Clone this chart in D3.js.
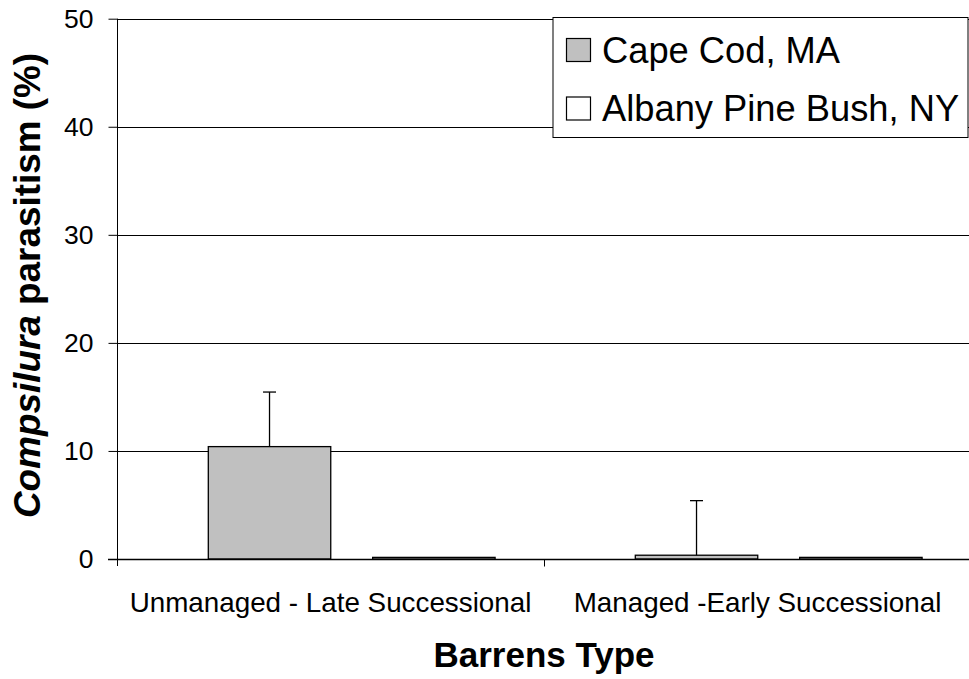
<!DOCTYPE html>
<html>
<head>
<meta charset="utf-8">
<script src="https://cdn.jsdelivr.net/npm/d3@7"></script>
<style>
  html, body { margin: 0; padding: 0; background: #fff; }
  svg { display: block; }
  text { font-family: "Liberation Sans", Arial, sans-serif; fill: #000; }
</style>
</head>
<body>
<svg id="chart" width="969" height="679"></svg>
<script>
// Parasitism by barrens type and site
const categories = ["Unmanaged - Late Successional", "Managed -Early Successional"];
const seriesNames = ["Cape Cod, MA", "Albany Pine Bush, NY"];
const capeCod = [10.4, 0.35];
const capeCodErr = [5.05, 5.05];
const albany = [0.15, 0.15];
const albanyErr = [0, 0];
const yTicks = [0, 10, 20, 30, 40, 50];
const seriesFill = ["#c0c0c0", "#ffffff"];

const svg = d3.select("#chart");

const plot = { left: 117, right: 971, top: 18.7, bottom: 559 };

const y = d3.scaleLinear().domain([0, 50]).range([plot.bottom, plot.top]);
const x0 = d3.scaleBand().domain(categories).range([plot.left, plot.right]).padding(0);
const x1 = d3.scaleBand().domain(seriesNames).range([91.3, 378.1]).paddingInner(0.255).paddingOuter(0);

const rows = [];
categories.forEach((c, i) => {
  rows.push({ cat: c, series: seriesNames[0], value: capeCod[i], err: capeCodErr[i], fill: seriesFill[0] });
  rows.push({ cat: c, series: seriesNames[1], value: albany[i], err: albanyErr[i], fill: seriesFill[1] });
});

// Horizontal gridlines
svg.append("g")
  .selectAll("line")
  .data(yTicks.filter(t => t > 0))
  .join("line")
  .attr("x1", plot.left).attr("x2", 969)
  .attr("y1", d => Math.round(y(d)) + 0.5).attr("y2", d => Math.round(y(d)) + 0.5)
  .attr("stroke", "#000").attr("stroke-width", 1);

// Bars
svg.append("g")
  .selectAll("rect")
  .data(rows)
  .join("rect")
  .attr("x", d => x0(d.cat) + x1(d.series))
  .attr("width", x1.bandwidth())
  .attr("y", d => y(d.value))
  .attr("height", d => y(0) - y(d.value))
  .attr("fill", d => d.fill)
  .attr("stroke", "#000")
  .attr("stroke-width", 1.3);

// Upper error bars
const eb = svg.append("g").attr("stroke", "#000").attr("stroke-width", 1.3);
rows.filter(d => d.err > 0).forEach(d => {
  const cx = x0(d.cat) + x1(d.series) + x1.bandwidth() / 2;
  eb.append("line").attr("x1", cx).attr("x2", cx).attr("y1", y(d.value)).attr("y2", y(d.value + d.err));
  eb.append("line").attr("x1", cx - 6.5).attr("x2", cx + 6.5).attr("y1", y(d.value + d.err)).attr("y2", y(d.value + d.err));
});

// Y axis
const yAxis = d3.axisLeft(y).tickValues(yTicks).tickSize(9).tickPadding(15).tickFormat(d3.format("d"));
const gy = svg.append("g").attr("transform", `translate(${plot.left + 0.5},0)`).call(yAxis);
gy.select(".domain").remove();
gy.append("line").attr("x1", 0).attr("x2", 0).attr("y1", y(50)).attr("y2", y(0) + 7).attr("stroke", "#000");
gy.selectAll(".tick line").attr("stroke", "#000");
gy.selectAll(".tick text")
  .style("font-family", "'Liberation Sans', Arial, sans-serif")
  .style("font-size", "26.5px").attr("fill", "#000");

// X axis
const xAxis = d3.axisBottom(x0).tickSize(0).tickPadding(33);
const gx = svg.append("g").attr("transform", `translate(0,${plot.bottom + 0.5})`).call(xAxis);
gx.select(".domain").remove();
gx.append("line").attr("x1", plot.left - 9).attr("x2", 969).attr("y1", 0).attr("y2", 0).attr("stroke", "#000").attr("stroke-width", 1.3);
gx.selectAll(".tick text")
  .style("font-family", "'Liberation Sans', Arial, sans-serif")
  .style("font-size", "27.8px").attr("fill", "#000");
// Category separators
gx.append("g").selectAll("line")
  .data(categories.slice(1))
  .join("line")
  .attr("x1", d => Math.round(x0(d)) + 0.5).attr("x2", d => Math.round(x0(d)) + 0.5)
  .attr("y1", 0).attr("y2", 7)
  .attr("stroke", "#000");

// Axis titles
svg.append("text")
  .attr("x", (plot.left + plot.right) / 2)
  .attr("y", 667)
  .attr("text-anchor", "middle")
  .style("font-size", "35px").style("font-weight", "bold")
  .text("Barrens Type");

const yt = svg.append("text")
  .attr("transform", "translate(40,285.5) rotate(-90)")
  .attr("x", -232.5)
  .attr("textLength", 465)
  .attr("lengthAdjust", "spacingAndGlyphs")
  .style("font-size", "37px").style("font-weight", "bold");
yt.append("tspan").style("font-style", "italic").text("Compsilura");
yt.append("tspan").text(" parasitism (%)");

// Legend
const lg = svg.append("g");
lg.append("rect").attr("x", 553).attr("y", 17.5).attr("width", 415).attr("height", 120)
  .attr("fill", "#fff").attr("stroke", "#000").attr("stroke-width", 1);
seriesNames.forEach((s, i) => {
  const ry = 38.5 + i * 58.5;
  lg.append("rect").attr("x", 566.5).attr("y", ry).attr("width", 24).attr("height", 23)
    .attr("fill", seriesFill[i]).attr("stroke", "#000").attr("stroke-width", 1.2);
  lg.append("text").attr("x", 602).attr("y", ry + 24)
    .style("font-size", "36.3px").text(s);
});
</script>
</body>
</html>
